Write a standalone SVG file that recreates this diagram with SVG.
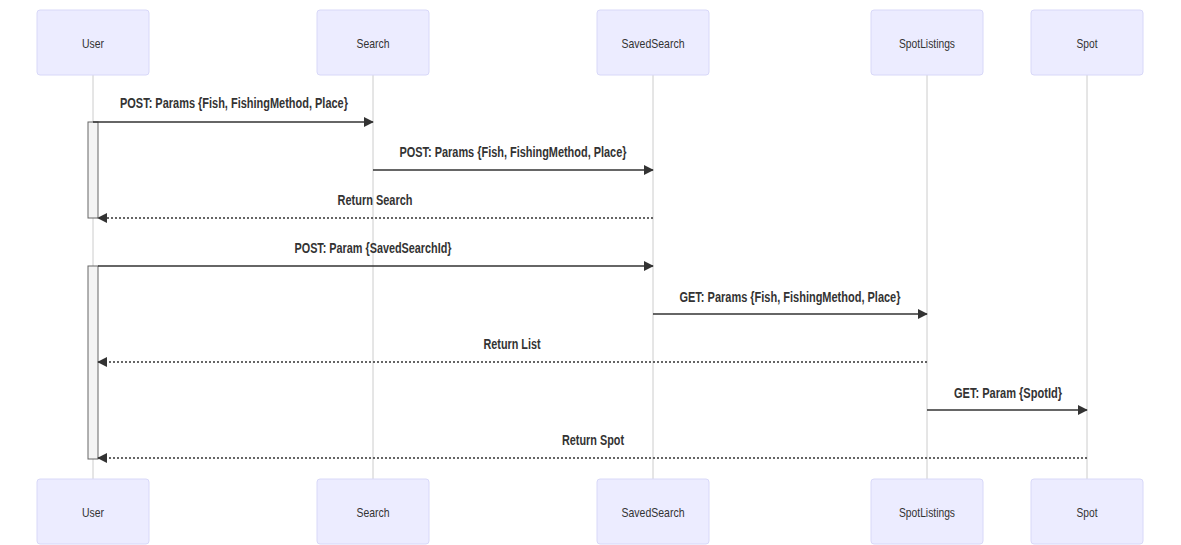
<svg xmlns="http://www.w3.org/2000/svg" width="1181" height="545" viewBox="0 0 1181 545">
<defs>
<style>
.actor{fill:#ececff;stroke:#d8d8f8;stroke-width:1}
.atext{font-family:"Liberation Sans",Arial,sans-serif;font-size:13px;fill:#333;text-anchor:middle}
.life{stroke:#cccccc;stroke-width:1}
.act{fill:#f4f4f4;stroke:#666;stroke-width:1}
.msg{stroke:#333;stroke-width:1.7;fill:none}
.dot{stroke-dasharray:2,2}
.mtext{font-family:"Liberation Sans",Arial,sans-serif;font-size:14px;font-weight:bold;fill:#333;text-anchor:middle}
</style>
<marker id="arrow" viewBox="0 0 12 12" refX="11" refY="6" markerWidth="10" markerHeight="10" markerUnits="userSpaceOnUse" orient="auto">
<path d="M0,0 L12,6 L0,12 z" fill="#333"/>
</marker>
</defs>
<rect width="1181" height="545" fill="#fff"/>
<g id="lifelines">
<line class="life" x1="93" y1="75" x2="93" y2="479"/>
<line class="life" x1="373" y1="75" x2="373" y2="479"/>
<line class="life" x1="653" y1="75" x2="653" y2="479"/>
<line class="life" x1="927" y1="75" x2="927" y2="479"/>
<line class="life" x1="1087" y1="75" x2="1087" y2="479"/>
</g>
<g id="actor-user">
<rect class="actor" x="37" y="10" width="112" height="65" rx="3"/>
<text class="atext" x="93" y="48" textLength="22" lengthAdjust="spacingAndGlyphs">User</text>
<rect class="actor" x="37" y="479" width="112" height="65" rx="3"/>
<text class="atext" x="93" y="517" textLength="22" lengthAdjust="spacingAndGlyphs">User</text>
</g>
<g id="actor-search">
<rect class="actor" x="317" y="10" width="112" height="65" rx="3"/>
<text class="atext" x="373" y="48" textLength="33" lengthAdjust="spacingAndGlyphs">Search</text>
<rect class="actor" x="317" y="479" width="112" height="65" rx="3"/>
<text class="atext" x="373" y="517" textLength="33" lengthAdjust="spacingAndGlyphs">Search</text>
</g>
<g id="actor-savedsearch">
<rect class="actor" x="597" y="10" width="112" height="65" rx="3"/>
<text class="atext" x="653" y="48" textLength="63" lengthAdjust="spacingAndGlyphs">SavedSearch</text>
<rect class="actor" x="597" y="479" width="112" height="65" rx="3"/>
<text class="atext" x="653" y="517" textLength="63" lengthAdjust="spacingAndGlyphs">SavedSearch</text>
</g>
<g id="actor-spotlistings">
<rect class="actor" x="871" y="10" width="112" height="65" rx="3"/>
<text class="atext" x="927" y="48" textLength="56" lengthAdjust="spacingAndGlyphs">SpotListings</text>
<rect class="actor" x="871" y="479" width="112" height="65" rx="3"/>
<text class="atext" x="927" y="517" textLength="56" lengthAdjust="spacingAndGlyphs">SpotListings</text>
</g>
<g id="actor-spot">
<rect class="actor" x="1031" y="10" width="112" height="65" rx="3"/>
<text class="atext" x="1087" y="48" textLength="21" lengthAdjust="spacingAndGlyphs">Spot</text>
<rect class="actor" x="1031" y="479" width="112" height="65" rx="3"/>
<text class="atext" x="1087" y="517" textLength="21" lengthAdjust="spacingAndGlyphs">Spot</text>
</g>
<g id="activations">
<rect class="act" x="88" y="122" width="10" height="96"/>
<rect class="act" x="88" y="266" width="10" height="193"/>
</g>
<g id="connectors">
<line class="msg" x1="93" y1="122" x2="373" y2="122" marker-end="url(#arrow)"/>
<line class="msg" x1="373" y1="170" x2="653" y2="170" marker-end="url(#arrow)"/>
<line class="msg dot" x1="653" y1="218" x2="98" y2="218" marker-end="url(#arrow)"/>
<line class="msg" x1="98" y1="266" x2="653" y2="266" marker-end="url(#arrow)"/>
<line class="msg" x1="653" y1="314" x2="927" y2="314" marker-end="url(#arrow)"/>
<line class="msg dot" x1="927" y1="362" x2="98" y2="362" marker-end="url(#arrow)"/>
<line class="msg" x1="927" y1="410" x2="1087" y2="410" marker-end="url(#arrow)"/>
<line class="msg dot" x1="1087" y1="458" x2="98" y2="458" marker-end="url(#arrow)"/>
</g>
<g id="labels">
<text class="mtext" x="234" y="108" textLength="228" lengthAdjust="spacingAndGlyphs">POST: Params {Fish, FishingMethod, Place}</text>
<text class="mtext" x="513" y="157" textLength="227" lengthAdjust="spacingAndGlyphs">POST: Params {Fish, FishingMethod, Place}</text>
<text class="mtext" x="375" y="205" textLength="75" lengthAdjust="spacingAndGlyphs">Return Search</text>
<text class="mtext" x="373" y="253" textLength="157" lengthAdjust="spacingAndGlyphs">POST: Param {SavedSearchId}</text>
<text class="mtext" x="790" y="302" textLength="221" lengthAdjust="spacingAndGlyphs">GET: Params {Fish, FishingMethod, Place}</text>
<text class="mtext" x="512" y="349" textLength="57" lengthAdjust="spacingAndGlyphs">Return List</text>
<text class="mtext" x="1008" y="398" textLength="108" lengthAdjust="spacingAndGlyphs">GET: Param {SpotId}</text>
<text class="mtext" x="593" y="445" textLength="62" lengthAdjust="spacingAndGlyphs">Return Spot</text>
</g>
</svg>
